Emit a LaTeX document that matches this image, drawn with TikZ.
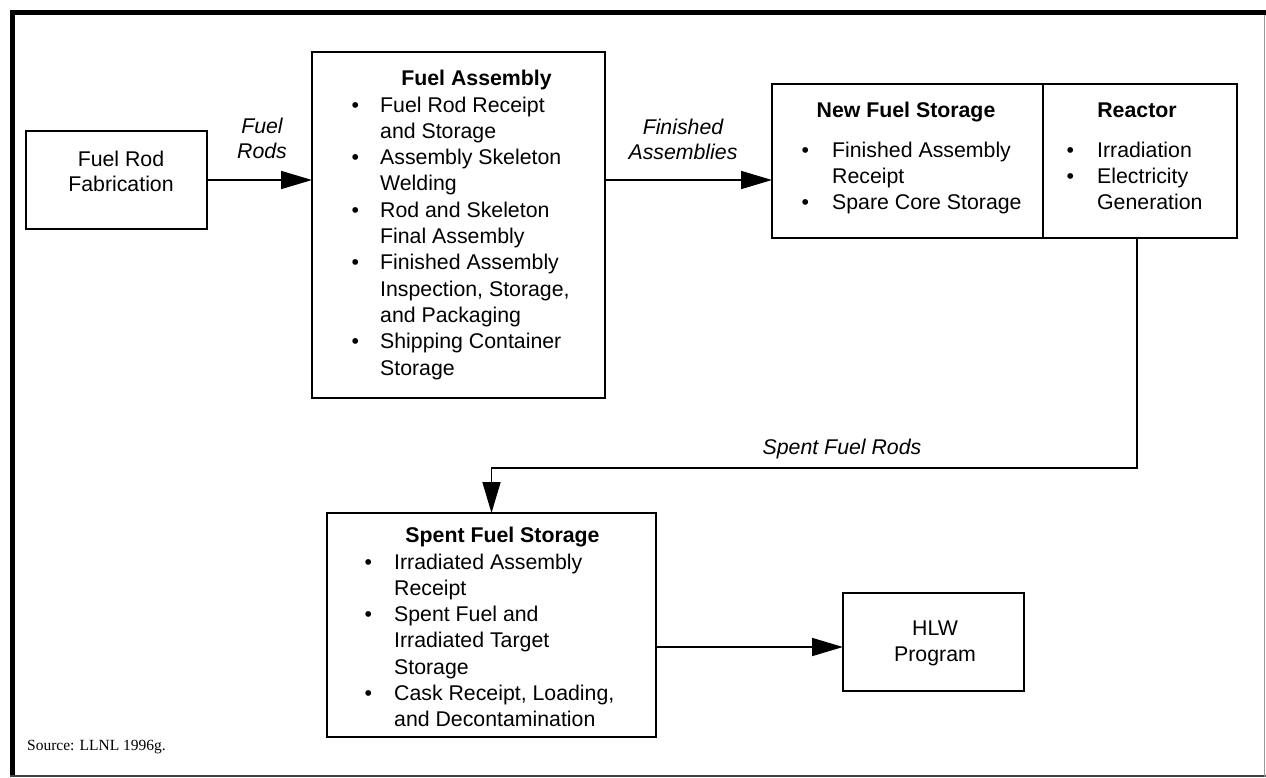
\documentclass[tikz,border=0pt]{standalone}
\usepackage{fontspec}
\setmainfont{Liberation Sans}
\newfontfamily\srcfont{Liberation Serif}
\usetikzlibrary{arrows.meta}
\tikzset{
  box/.style={draw, line width=1.7pt, inner sep=0pt, outer sep=0pt},
  txt/.style={inner sep=0pt, font=\fontsize{21.3}{26.3}\selectfont},
  ttl/.style={inner sep=0pt, font=\fontsize{21.3}{26.3}\selectfont\bfseries},
  lbl/.style={inner sep=0pt, font=\fontsize{21.3}{25.5}\selectfont\itshape},
  arr/.style={line width=1.7pt, -{Triangle[length=31pt,width=18pt]}},
  frame/.style={line width=5pt, black}
}
\begin{document}
\begin{tikzpicture}[x=1pt,y=-1pt]
\useasboundingbox (0,0) rectangle (1266,777);
\fill[white] (0,0) rectangle (1266,777);
% frame
\draw[frame] (10,12.5) -- (1266,12.5);
\draw[frame] (12.5,10) -- (12.5,777);
\draw[line width=1.6pt, black!75] (10,775.7) -- (1266,775.7);
\draw[line width=1.2pt, black!40] (1264.4,15) -- (1264.4,777);

% boxes
\node[box, minimum width=181pt, minimum height=98pt] (fab) at (116.5,180) {};
\node[box, minimum width=293pt, minimum height=346pt] (asm) at (458.5,225) {};
\node[box, minimum width=271pt, minimum height=154pt] (nfs) at (907.5,161) {};
\node[box, minimum width=194pt, minimum height=154pt] (reactor) at (1140,161) {};
\node[box, minimum width=329pt, minimum height=224pt] (sfs) at (491.5,625) {};
\node[box, minimum width=181pt, minimum height=98pt] (hlw) at (933.5,642) {};

% Fuel Rod Fabrication text
\node[txt, anchor=base] (fabtxt) at (121,166) {\begin{tabular}[t]{@{}c@{}}Fuel Rod\\[-1.3pt]Fabrication\end{tabular}};

% Fuel Assembly
\node[ttl, anchor=base] (asmtitle) at (476.5,85) {Fuel Assembly};
\node[txt, anchor=base west] (asmlist) at (351.3,112) {\begin{tabular}[t]{@{}l@{\hspace{21.2pt}}l@{}}
\textbullet & Fuel Rod Receipt\\
 & and Storage\\
\textbullet & Assembly Skeleton\\
 & Welding\\
\textbullet & Rod and Skeleton\\
 & Final Assembly\\
\textbullet & Finished Assembly\\
 & Inspection, Storage,\\
 & and Packaging\\
\textbullet & Shipping Container\\
 & Storage
\end{tabular}};

% New Fuel Storage
\node[ttl, anchor=base] (nfstitle) at (906,117) {New Fuel Storage};
\node[txt, anchor=base west] (nfslist) at (801.3,157) {\begin{tabular}[t]{@{}l@{\hspace{23.2pt}}l@{}}
\textbullet & Finished Assembly\\
 & Receipt\\
\textbullet & Spare Core Storage
\end{tabular}};

% Reactor
\node[ttl, anchor=base] (reactitle) at (1137,117) {Reactor};
\node[txt, anchor=base west] (reaclist) at (1066.3,157) {\begin{tabular}[t]{@{}l@{\hspace{23.2pt}}l@{}}
\textbullet & Irradiation\\
\textbullet & Electricity\\
 & Generation
\end{tabular}};

% Spent Fuel Storage
\node[ttl, anchor=base] (sfstitle) at (502.5,542) {Spent Fuel Storage};
\node[txt, anchor=base west] (sfslist) at (364.3,569) {\begin{tabular}[t]{@{}l@{\hspace{22.2pt}}l@{}}
\textbullet & Irradiated Assembly\\
 & Receipt\\
\textbullet & Spent Fuel and\\
 & Irradiated Target\\
 & Storage\\
\textbullet & Cask Receipt, Loading,\\
 & and Decontamination
\end{tabular}};

% HLW
\node[txt, anchor=base] (hlwtxt) at (935,635) {\begin{tabular}[t]{@{}c@{}}HLW\\Program\end{tabular}};

% connectors
\draw[arr] (fab.east) -- (asm.west |- fab.east);
\draw[arr] (asm.east |- fab.east) -- (nfs.west |- fab.east);
\coordinate (turn) at (1137,468);
\draw[arr] (reactor.south -| turn) -- (turn) -| (sfs.north);
\draw[arr] ([yshift=-5pt]hlw.west -| sfs.east) -- ([yshift=-5pt]hlw.west);

% connector labels
\node[lbl, anchor=base] (l1) at (262,133) {\begin{tabular}[t]{@{}c@{}}Fuel\\Rods\end{tabular}};
\node[lbl, anchor=base] (l2) at (683,134) {\begin{tabular}[t]{@{}c@{}}Finished\\Assemblies\end{tabular}};
\node[lbl, anchor=base] (l3) at (842,454) {Spent Fuel Rods};

% source
\node[inner sep=0pt, anchor=base west, font=\srcfont\fontsize{15.5}{18}\selectfont] (src) at (27,750) {Source: LLNL 1996g.};
\end{tikzpicture}
\end{document}
